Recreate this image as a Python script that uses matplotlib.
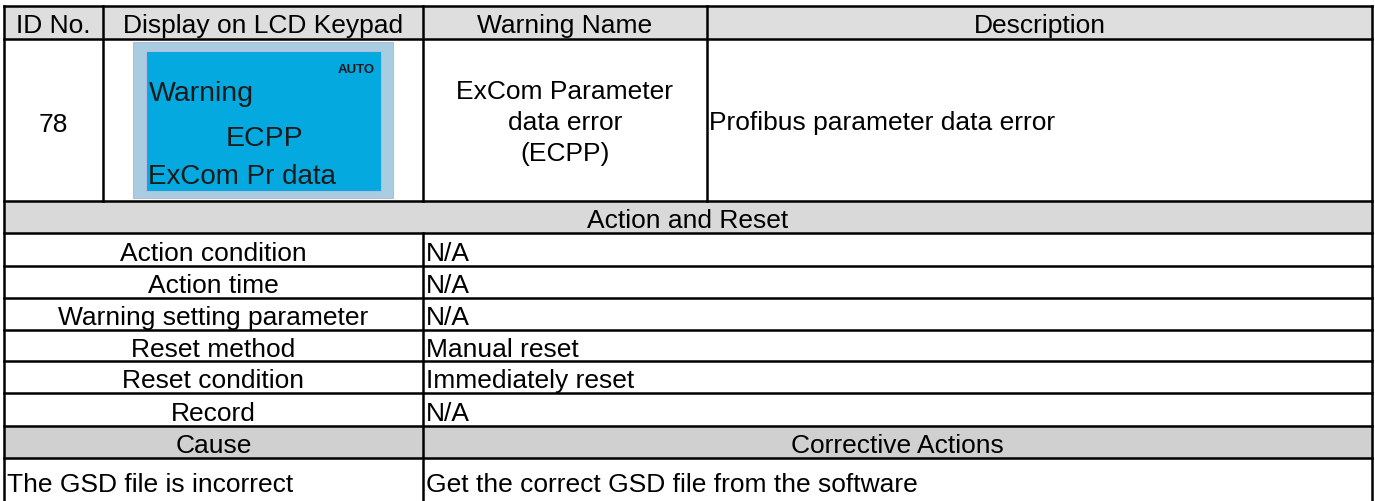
import matplotlib
matplotlib.use('Agg')
import matplotlib.pyplot as plt
from matplotlib.patches import Rectangle

plt.rcParams['font.family'] = ['Liberation Sans', 'DejaVu Sans']

# table content
header = ['ID No.', 'Display on LCD Keypad', 'Warning Name', 'Description']
id_no = '78'
lcd_mode = 'AUTO'
lcd_lines = ['Warning', 'ECPP', 'ExCom Pr data']
warning_name = ['ExCom Parameter', 'data error', '(ECPP)']
description = 'Profibus parameter data error'
section_title = 'Action and Reset'
action_labels = ['Action condition', 'Action time', 'Warning setting parameter',
                 'Reset method', 'Reset condition', 'Record']
action_values = ['N/A', 'N/A', 'N/A', 'Manual reset', 'Immediately reset', 'N/A']
cause_header = 'Cause'
corrective_header = 'Corrective Actions'
causes = ['The GSD file is incorrect']
actions = ['Get the correct GSD file from the software']

W, H = 1375, 502
col_x = [4, 103, 423, 707, 1372]
row_y = [7, 40, 202, 234, 267, 299, 331, 362, 394, 427, 459, 507]
FS = 19
LW = 1.8
CAP = 0.358 * FS * 100 / 72  # px from cap centre to baseline

fig = plt.figure(figsize=(W / 100, H / 100), dpi=100)
ax = fig.add_axes([0, 0, 1, 1])
ax.set_xlim(0, W)
ax.set_ylim(H, 0)
ax.axis('off')


def put(x, yc, s, ha='center', **kw):
    ax.text(x, yc + CAP, s, ha=ha, va='baseline', fontsize=kw.pop('fontsize', FS),
            color=kw.pop('color', 'black'), **kw)


def mid(a, b):
    return (a + b) / 2


# shaded rows
ax.add_patch(Rectangle((col_x[0], row_y[0]), col_x[-1] - col_x[0], row_y[1] - row_y[0],
                       color='#dedede', zorder=0))
ax.add_patch(Rectangle((col_x[0], row_y[2]), col_x[-1] - col_x[0], row_y[3] - row_y[2],
                       color='#d9d9d9', zorder=0))
ax.add_patch(Rectangle((col_x[0], row_y[9]), col_x[-1] - col_x[0], row_y[10] - row_y[9],
                       color='#d0d0d0', zorder=0))

# header
for i, h in enumerate(header):
    put(mid(col_x[i], col_x[i + 1]), mid(row_y[0], row_y[1]) + 0.5, h)

# main row
yc = mid(row_y[1], row_y[2])
put(mid(col_x[0], col_x[1]), yc + 2, id_no)

# lcd picture
ax.add_patch(Rectangle((133, 43), 260, 156, facecolor='#a9cde0', edgecolor='#b8b8e0', lw=0.8))
ax.add_patch(Rectangle((146, 52), 235, 140, facecolor='#03a9df', edgecolor='#b8b8e0', lw=0.8))
ax.text(375, 68 + 4.7, lcd_mode, ha='right', va='baseline', fontsize=9.5,
        fontweight='bold', color='#1a1a1a')
put(149, 92, lcd_lines[0], ha='left', fontsize=20.5, color='#1a1a1a')
put(264, 137, lcd_lines[1], fontsize=20.5, color='#1a1a1a')
put(148, 175, lcd_lines[2], ha='left', fontsize=20, color='#1a1a1a')

for i, s in enumerate(warning_name):
    put(mid(col_x[2], col_x[3]), yc + (i - 1) * 31, s)
put(col_x[3] + 2, yc, description, ha='left')

# action and reset
put(mid(col_x[0], col_x[-1]), mid(row_y[2], row_y[3]) + 1, section_title)
for i, (lab, val) in enumerate(zip(action_labels, action_values)):
    yc = mid(row_y[3 + i], row_y[4 + i]) + 1
    put(mid(col_x[0], col_x[2]), yc, lab)
    put(col_x[2] + 3, yc, val, ha='left')

put(mid(col_x[0], col_x[2]), mid(row_y[9], row_y[10]) + 1, cause_header)
put(mid(col_x[2], col_x[-1]), mid(row_y[9], row_y[10]) + 1, corrective_header)
for i, (c, a) in enumerate(zip(causes, actions)):
    yc = 483
    put(col_x[0] + 3, yc, c, ha='left')
    put(col_x[2] + 3, yc, a, ha='left')

# grid lines
for y in row_y[:-1]:
    ax.plot([col_x[0], col_x[-1]], [y, y], color='black', lw=LW, solid_capstyle='projecting')
ax.plot([col_x[0]] * 2, [row_y[0], row_y[-1]], color='black', lw=LW)
ax.plot([col_x[-1]] * 2, [row_y[0], row_y[-1]], color='black', lw=LW)
for x in col_x[1:4]:
    ax.plot([x, x], [row_y[0], row_y[2]], color='black', lw=LW)
ax.plot([col_x[2]] * 2, [row_y[3], row_y[-1]], color='black', lw=LW)

fig.savefig('out.png', dpi=100)
